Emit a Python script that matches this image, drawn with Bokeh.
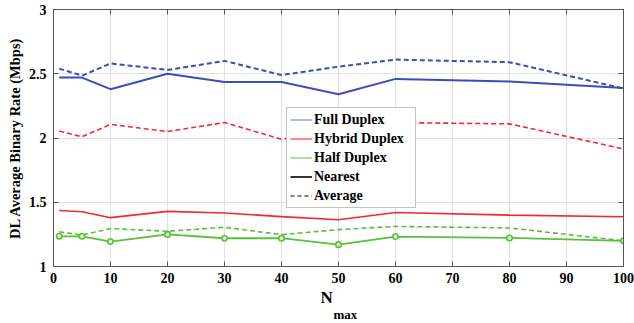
from bokeh.plotting import figure
from bokeh.models import (ColumnDataSource, Legend, LegendItem, LinearAxis, Title,
                          FixedTicker, Range1d, CustomJSTickFormatter)
from bokeh.embed import file_html
from bokeh.resources import INLINE

# ---- data ----
n_max = [1, 5, 10, 20, 30, 40, 50, 60, 80, 100]
full_nearest = [2.47, 2.47, 2.38, 2.50, 2.435, 2.435, 2.34, 2.46, 2.44, 2.39]
full_average = [2.54, 2.485, 2.58, 2.53, 2.60, 2.49, 2.555, 2.61, 2.59, 2.385]
hybrid_nearest = [1.436, 1.426, 1.38, 1.429, 1.416, 1.388, 1.364, 1.42, 1.40, 1.387]
hybrid_average = [2.054, 2.01, 2.106, 2.05, 2.12, 1.99, 2.06, 2.12, 2.11, 1.915]
half_nearest = [1.235, 1.235, 1.194, 1.25, 1.22, 1.22, 1.17, 1.233, 1.222, 1.20]
half_average = [1.27, 1.245, 1.295, 1.274, 1.305, 1.248, 1.287, 1.312, 1.30, 1.20]
x_ticks = [0, 10, 20, 30, 40, 50, 60, 70, 80, 90, 100]
y_ticks = [1, 1.5, 2, 2.5, 3]
y_tick_labels = {1: "1", 1.5: "1.5", 2: "2", 2.5: "2.5", 3: "3"}
legend_labels = ["Full Duplex", "Hybrid Duplex", "Half Duplex", "Nearest", "Average"]

BLUE = "#3b4db8"
RED = "#f22a2a"
GREEN = "#5cbf3c"
FONT = "Liberation Serif"

src = ColumnDataSource(dict(x=n_max, fn=full_nearest, fa=full_average,
                            hn=hybrid_nearest, ha=hybrid_average,
                            qn=half_nearest, qa=half_average))

p = figure(width=634, height=323, output_backend="svg", toolbar_location=None,
           x_range=Range1d(0, 100), y_range=Range1d(1, 3),
           min_border_left=53, min_border_right=11, min_border_top=9, min_border_bottom=4)

p.line("x", "fa", source=src, color=BLUE, line_width=2, line_dash="5 3")
p.line("x", "fn", source=src, color=BLUE, line_width=2)
p.line("x", "ha", source=src, color=RED, line_width=1.6, line_dash="5 3")
p.line("x", "hn", source=src, color=RED, line_width=1.6)
p.line("x", "qa", source=src, color=GREEN, line_width=1.6, line_dash="5 3")
p.line("x", "qn", source=src, color=GREEN, line_width=1.8)
p.scatter("x", "qn", source=src, size=5.5, line_color=GREEN, line_width=1.6,
          fill_color="#d8f0d0")

# legend proxies (no visible data)
nan = float("nan")
proxy = ColumnDataSource(dict(x=[nan], y=[nan]))
r_full = p.line("x", "y", source=proxy, color="#8093d6", line_width=1.3)
r_hyb = p.line("x", "y", source=proxy, color="#ff4a4a", line_width=1.3)
r_half = p.line("x", "y", source=proxy, color="#7fcf66", line_width=1.3)
r_near = p.line("x", "y", source=proxy, color="black", line_width=1.6)
r_avg = p.line("x", "y", source=proxy, color="black", line_width=1.2, line_dash="4 3")

legend = Legend(items=[LegendItem(label=l, renderers=[r]) for l, r in
                       zip(legend_labels, [r_full, r_hyb, r_half, r_near, r_avg])],
                location=(233, 58), padding=3, spacing=2, label_height=17,
                glyph_height=17, glyph_width=22, label_standoff=2, label_width=98,
                margin=0,
                label_text_font=FONT, label_text_font_style="bold",
                label_text_font_size="14px", label_text_color="black",
                border_line_color="#888888", border_line_width=1,
                background_fill_color="white", background_fill_alpha=1)
p.add_layout(legend, "center")

# axes
for ax in (p.xaxis[0], p.yaxis[0]):
    ax.major_tick_in = 5
    ax.major_tick_out = 0
    ax.minor_tick_in = 0
    ax.minor_tick_out = 0
    ax.axis_line_color = "#555555"
    ax.major_tick_line_color = "#555555"
    ax.major_label_text_font = FONT
    ax.major_label_text_font_style = "bold"
    ax.major_label_text_font_size = "14px"
    ax.major_label_text_color = "black"

p.xaxis.ticker = FixedTicker(ticks=x_ticks)
p.yaxis.ticker = FixedTicker(ticks=y_ticks)
p.yaxis.major_label_overrides = y_tick_labels
p.xaxis.major_label_standoff = 6
p.yaxis.major_label_standoff = 7
p.yaxis.axis_label = "DL Average Binary Rate (Mbps)"
p.yaxis.axis_label_text_font = FONT
p.yaxis.axis_label_text_font_style = "bold"
p.yaxis.axis_label_text_font_size = "14.5px"
p.yaxis.axis_label_text_color = "black"
p.yaxis.axis_label_standoff = 3

blank = CustomJSTickFormatter(code="return ''")
top = LinearAxis(ticker=FixedTicker(ticks=x_ticks), formatter=blank)
right = LinearAxis(ticker=FixedTicker(ticks=y_ticks), formatter=blank)
for ax in (top, right):
    ax.major_tick_in = 5
    ax.major_tick_out = 0
    ax.minor_tick_in = 0
    ax.minor_tick_out = 0
    ax.major_label_standoff = 0
    ax.axis_line_color = "#555555"
    ax.major_tick_line_color = "#555555"
p.add_layout(top, "above")
p.add_layout(right, "right")

p.xgrid.ticker = FixedTicker(ticks=x_ticks)
p.ygrid.ticker = FixedTicker(ticks=y_ticks)
p.grid.grid_line_color = "#e2e2e2"
p.grid.grid_line_width = 1
p.outline_line_color = "#555555"

# x axis label N_max (N with subscript "max") as stacked titles below
p.add_layout(Title(text="N", align="left", offset=267, text_font=FONT,
                   text_font_style="bold", text_font_size="17px", text_color="black",
                   standoff=0, text_line_height=0.8), "below")
p.add_layout(Title(text="max", align="left", offset=280, text_font=FONT,
                   text_font_style="bold", text_font_size="13px", text_color="black",
                   standoff=0, text_line_height=0.8, vertical_align="top"), "below")

open("out.html", "w").write(file_html(p, INLINE))
